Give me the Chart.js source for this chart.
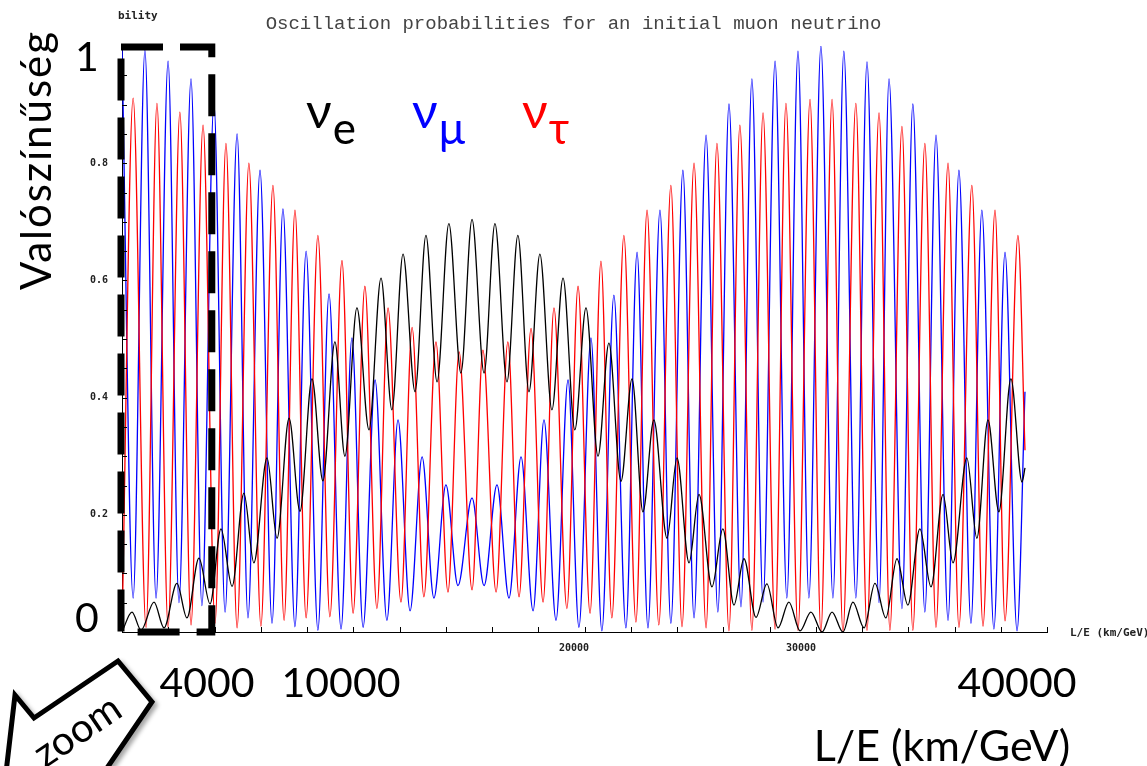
<!DOCTYPE html>
<html lang="hu">
<head>
<meta charset="UTF-8">
<title>Neutrínó oszcilláció</title>
<script src="https://cdn.jsdelivr.net/npm/chart.js"></script>
<style>
    body {
        margin: 0;
        background: #fff;
    }
    #wrap {
        position: relative;
        width: 1147px;
        height: 766px;
        overflow: hidden;
        font-family: Lato, 'Noto Sans', sans-serif;
    }
    #wrap canvas {
        position: absolute;
        left: 0;
        top: 0;
    }
    .big {
        position: absolute;
        font-size: 41px;
        line-height: 1;
        color: #000;
        white-space: nowrap;
        transform: translate(-50%, -50%);
    }
    #ylab {
        transform: translate(-50%, -50%) rotate(-90deg);
        font-size: 42px;
        letter-spacing: 2px;
    }
    .leg {
        position: absolute;
        font-size: 50px;
        line-height: 1;
        white-space: nowrap;
    }
    .leg sub {
        font-size: 44px;
        vertical-align: baseline;
        position: relative;
        top: 16px;
        margin-left: 1px;
    }
    #zoomArrow {
        position: absolute;
        left: 0;
        top: 640px;
        filter: drop-shadow(3px 3px 2px rgba(0,0,0,0.35));
    }
</style>
</head>
<body>
<div id="wrap">
    <canvas id="oscChart" width="1147" height="766"></canvas>

    <div class="big" id="ylab" style="left:35px; top:160px;">Valószínűség</div>
    <div class="big" style="left:87px; top:55px;">1</div>
    <div class="big" style="left:87px; top:616px;">0</div>
    <div class="big" style="left:207px; top:681px;">4000</div>
    <div class="big" style="left:341px; top:681px;">10000</div>
    <div class="big" style="left:1017px; top:681px;">40000</div>
    <div class="big" style="left:942px; top:744px; font-size:43px;">L/E (km/GeV)</div>

    <div class="leg" style="left:306px; top:84px; color:#000;">ν<sub>e</sub></div>
    <div class="leg" style="left:412px; top:84px; color:#0000ff;">ν<sub>μ</sub></div>
    <div class="leg" style="left:522px; top:84px; color:#ff0000;">ν<sub>τ</sub></div>

    <svg id="zoomArrow" width="200" height="126" viewBox="0 0 200 126">
        <polygon points="15,55 34,78 118,21 152,62 92,150 4,150"
                 fill="#fff" stroke="#000" stroke-width="5" stroke-linejoin="miter"/>
        <text x="78" y="104" font-family="Lato, 'Noto Sans', sans-serif" font-size="40"
              transform="rotate(-34 78 92)" text-anchor="middle">zoom</text>
    </svg>
</div>

<script>
    // L/E values (km/GeV) at the turning points of each curve, and the probabilities there
    const eLE = [0, 440, 840, 1410, 1850, 2420, 2860, 3390, 3880, 4360,
        4850, 5370, 5810, 6390, 6830, 7360, 7840, 8370, 8850, 9380,
        9820, 10350, 10880, 11410, 11890, 12380, 12910, 13390, 13880, 14400,
        14930, 15420, 15950, 16430, 16960, 17440, 17930, 18410, 18940, 19430,
        19950, 20440, 20970, 21450, 21980, 22470, 22950, 23430, 24010, 24450,
        24980, 25420, 25990, 26470, 26960, 27400, 27930, 28410, 28900, 29380,
        29870, 30350, 30840, 31280, 31760, 32200, 32690, 33170, 33650, 34140,
        34620, 35150, 35640, 36170, 36610, 37220, 37660, 38150, 38630, 39160,
        39650, 39780];
    const eProb = [0, .034, .003, .051, .007, .083, .024, .126, .048, .176,
        .078, .237, .118, .297, .160, .365, .206, .432, .258, .495,
        .300, .553, .345, .604, .379, .645, .410, .677, .427, .697,
        .442, .704, .442, .697, .427, .677, .410, .645, .379, .604,
        .345, .553, .300, .493, .257, .432, .205, .362, .160, .297,
        .118, .235, .077, .176, .046, .125, .025, .082, .007, .051,
        .002, .034, 0, .034, 0, .051, .007, .083, .024, .125,
        .046, .176, .077, .235, .118, .297, .160, .362, .205, .432,
        .256, .280];

    const muLE = [0, 490, 1010, 1500, 2030, 2510, 3040, 3520, 4050, 4540,
        5070, 5550, 6080, 6610, 7090, 7620, 8110, 8630, 9120, 9650,
        10130, 10620, 11150, 11670, 12160, 12690, 13220, 13740, 14270, 14800,
        15420, 15950, 16520, 17050, 17580, 18110, 18590, 19120, 19650, 20130,
        20660, 21140, 21670, 22200, 22690, 23170, 23700, 24180, 24710, 25200,
        25730, 26250, 26740, 27270, 27750, 28240, 28770, 29290, 29780, 30260,
        30790, 31320, 31800, 32330, 32820, 33350, 33790, 34360, 34840, 35370,
        35860, 36390, 36870, 37400, 37880, 38410, 38900, 39430, 39780];
    const muProb = [1.0, .058, .993, .058, .974, .050, .944, .045, .903, .034,
        .850, .024, .788, .015, .722, .009, .650, .003, .577, .005,
        .502, .008, .430, .020, .362, .036, .299, .058, .251, .079,
        .229, .079, .251, .058, .299, .036, .362, .020, .430, .008,
        .502, .002, .575, .007, .648, .007, .720, .015, .788, .024,
        .848, .034, .901, .043, .944, .051, .974, .058, .991, .058,
        1.0, .058, .991, .058, .973, .050, .944, .040, .901, .034,
        .848, .020, .788, .015, .720, .005, .648, .002, .410];

    const tauLE = [0, 490, 1060, 1540, 2030, 2550, 3040, 3570, 4100, 4580,
        5070, 5590, 6120, 6650, 7140, 7620, 8110, 8630, 9160, 9690,
        10180, 10700, 11230, 11720, 12290, 12780, 13300, 13830, 14360, 14850,
        15420, 15900, 16480, 17000, 17490, 18020, 18550, 19030, 19600, 20090,
        20620, 21100, 21580, 22110, 22640, 23130, 23650, 24180, 24670, 25200,
        25730, 26210, 26740, 27220, 27750, 28240, 28770, 29250, 29780, 30310,
        30790, 31280, 31760, 32330, 32820, 33350, 33830, 34360, 34840, 35370,
        35860, 36390, 36870, 37440, 37930, 38460, 38900, 39470, 39780];
    const tauProb = [0, .911, .008, .902, .008, .887, .012, .865, .015, .834,
        .007, .800, .010, .762, .020, .720, .024, .677, .026, .634,
        .032, .590, .040, .553, .051, .520, .060, .495, .068, .478,
        .072, .481, .068, .495, .060, .518, .051, .553, .040, .590,
        .032, .633, .024, .677, .017, .720, .012, .762, .009, .800,
        .007, .834, .002, .865, .003, .886, .005, .902, .003, .909,
        0, .909, 0, .902, .003, .886, .003, .863, .003, .834,
        .008, .800, .008, .762, .010, .720, .019, .677, .310];

    const yTickLabels = [0.2, 0.4, 0.6, 0.8];
    const xTickLabels = [20000, 30000];
    const zoomRange = [0, 4000];

    const chartTitle = 'Oscillation probabilities for an initial muon neutrino';
    const toPoints = (xs, ys) => xs.map((x, i) => ({ x: x, y: ys[i] }));
    const smallFont = { family: "'DejaVu Sans Mono', monospace", size: 10, weight: 'bold' };

    function curve(label, xs, ys, color) {
        return {
            label: label,
            data: toPoints(xs, ys),
            borderColor: color,
            borderWidth: 1.3,
            pointRadius: 0,
            fill: false,
            cubicInterpolationMode: 'monotone'
        };
    }

    // inward tick marks, the dashed zoom frame, x tick labels and the small texts
    const extras = {
        id: 'extras',
        afterDraw(chart) {
            const ctx = chart.ctx;
            const xs = chart.scales.x;
            const ys = chart.scales.y;
            const area = chart.chartArea;
            ctx.save();

            ctx.strokeStyle = '#000';
            ctx.lineWidth = 1;
            ctx.beginPath();
            xs.ticks.forEach(t => {
                const px = Math.round(xs.getPixelForValue(t.value)) + 0.5;
                ctx.moveTo(px, area.bottom);
                ctx.lineTo(px, area.bottom - 5);
            });
            ys.ticks.forEach(t => {
                const py = Math.round(ys.getPixelForValue(t.value)) + 0.5;
                ctx.moveTo(area.left, py);
                ctx.lineTo(area.left + 5, py);
            });
            ctx.stroke();

            const x0 = xs.getPixelForValue(zoomRange[0]);
            const x1 = xs.getPixelForValue(zoomRange[1]);
            const y0 = ys.getPixelForValue(1);
            const y1 = ys.getPixelForValue(0);
            ctx.lineWidth = 7;
            ctx.setLineDash([42, 17]);
            ctx.lineJoin = 'miter';
            ctx.beginPath();
            ctx.moveTo(x0 - 1, y0 + 1);
            ctx.lineTo(x1 - 1, y0 + 1);
            ctx.lineTo(x1 - 1, y1);
            ctx.lineTo(x0 - 1, y1);
            ctx.closePath();
            ctx.stroke();
            ctx.setLineDash([]);

            ctx.fillStyle = '#222';
            ctx.font = "bold 10px 'DejaVu Sans Mono', monospace";
            ctx.textAlign = 'center';
            ctx.textBaseline = 'middle';
            xTickLabels.forEach(v => {
                ctx.fillText(String(v), xs.getPixelForValue(v) - 2, area.bottom + 16);
            });

            ctx.font = "bold 11px 'DejaVu Sans Mono', monospace";
            ctx.textAlign = 'left';
            ctx.fillText('bility', 118, 16);
            ctx.fillText('L/E (km/GeV)', area.right + 23, area.bottom + 1);

            ctx.fillStyle = '#444';
            ctx.font = "19px 'Liberation Mono', monospace";
            ctx.textAlign = 'center';
            ctx.fillText(chartTitle, chart.width / 2, 24);
            ctx.restore();
        }
    };

    new Chart(document.getElementById('oscChart'), {
        type: 'line',
        data: {
            datasets: [
                curve('νe', eLE, eProb, '#000000'),
                curve('ντ', tauLE, tauProb, '#ff0000'),
                curve('νμ', muLE, muProb, '#0000ff')
            ]
        },
        options: {
            responsive: false,
            animation: false,
            layout: { padding: { left: 0, right: 100, top: 46, bottom: 0 } },
            plugins: {
                legend: { display: false },
                tooltip: { enabled: false },
                title: { display: false }
            },
            scales: {
                x: {
                    type: 'linear',
                    min: 0,
                    max: 40750,
                    afterFit: s => { s.height = 134; },
                    grid: { display: false, drawTicks: false },
                    border: { display: true, color: '#000', width: 1 },
                    ticks: {
                        stepSize: 2000,
                        includeBounds: false,
                        autoSkip: false,
                        maxRotation: 0,
                        callback: () => ''
                    }
                },
                y: {
                    min: 0,
                    max: 1,
                    afterFit: s => { s.width = 122; },
                    grid: { display: false, drawTicks: false },
                    border: { display: true, color: '#000', width: 1 },
                    ticks: {
                        stepSize: 0.05,
                        autoSkip: false,
                        padding: 14,
                        color: '#222',
                        font: smallFont,
                        callback: v => yTickLabels.includes(Math.round(v * 100) / 100) ? v.toFixed(1) : ''
                    }
                }
            }
        },
        plugins: [extras]
    });
</script>
</body>
</html>
